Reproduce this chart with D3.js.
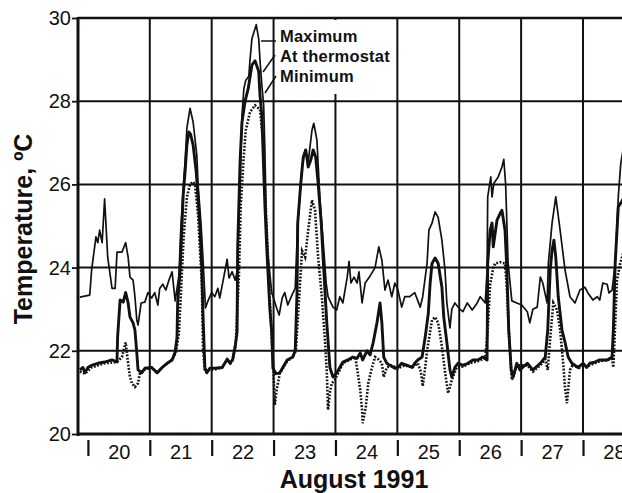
<!DOCTYPE html>
<html>
<head>
<meta charset="utf-8">
<script src="https://cdn.jsdelivr.net/npm/d3@7"></script>
<style>
  html, body { margin: 0; padding: 0; background: #fff; }
  svg { display: block; }
  text { font-family: "Liberation Sans", Arial, Helvetica, sans-serif; fill: #111; }
</style>
</head>
<body>
<svg id="chart" width="622" height="493"></svg>
<script>
// Room temperatures, August 1991. Time is given in decimal days of the month.
const maximumSeries = [
  [19.87,23.29],[20.03,23.34],[20.06,23.94],[20.13,24.74],[20.16,24.6],[20.19,24.9],[20.23,24.6],
  [20.27,25.65],[20.32,24.25],[20.39,23.5],[20.44,23.5],[20.47,24.37],[20.55,24.37],[20.61,24.6],
  [20.65,24.25],[20.68,23.77],[20.73,23.7],[20.76,23.3],[20.79,22.74],[20.81,22.62],[20.86,23.15],
  [20.92,23.17],[20.97,23.4],[21.03,23.27],[21.08,23.4],[21.13,23.1],[21.16,23.5],[21.21,23.6],
  [21.26,23.46],[21.31,23.7],[21.36,23.9],[21.41,23.2],[21.47,23.8],[21.50,24.9],[21.54,25.9],
  [21.57,26.54],[21.60,27.36],[21.65,27.83],[21.70,27.5],[21.76,26.7],[21.78,26.0],[21.83,25.0],
  [21.86,24.2],[21.90,23.03],[21.94,23.2],[22.00,23.4],[22.05,23.3],[22.10,23.5],[22.13,23.27],
  [22.18,23.65],[22.25,24.2],[22.28,23.75],[22.33,23.9],[22.38,23.7],[22.41,23.9],[22.46,26.06],
  [22.49,27.67],[22.52,28.3],[22.55,28.5],[22.60,28.6],[22.62,29.0],[22.65,29.5],[22.72,29.84],
  [22.76,29.5],[22.78,29.0],[22.81,28.4],[22.84,27.9],[22.86,26.8],[22.88,25.3],[22.91,24.3],
  [22.97,23.4],[23.05,23.03],[23.09,22.86],[23.14,23.27],[23.18,23.4],[23.23,23.1],[23.30,23.35],
  [23.35,23.5],[23.39,25.07],[23.46,26.42],[23.51,26.83],[23.56,26.54],[23.62,27.3],[23.65,27.47],
  [23.70,27.07],[23.75,25.62],[23.80,24.66],[23.85,23.63],[23.88,23.3],[23.96,23.05],[24.02,22.98],
  [24.07,23.3],[24.12,23.15],[24.19,23.77],[24.22,24.15],[24.25,23.63],[24.30,23.77],[24.35,23.63],
  [24.38,23.9],[24.43,23.15],[24.48,23.63],[24.56,23.8],[24.64,24.0],[24.70,24.5],[24.75,24.18],
  [24.80,23.46],[24.85,23.7],[24.91,23.3],[24.96,23.63],[25.01,23.46],[25.07,23.05],[25.12,23.3],
  [25.20,23.3],[25.28,23.4],[25.37,23.05],[25.41,23.3],[25.48,24.1],[25.51,24.9],[25.56,25.07],
  [25.61,25.34],[25.66,25.2],[25.72,24.66],[25.77,23.94],[25.80,23.15],[25.85,22.55],[25.88,23.0],
  [25.93,23.15],[26.01,23.0],[26.06,22.94],[26.13,23.15],[26.21,22.98],[26.29,23.15],[26.34,23.3],
  [26.42,23.15],[26.45,23.94],[26.46,25.7],[26.51,26.18],[26.53,25.7],[26.56,26.03],[26.63,26.18],
  [26.69,26.42],[26.72,26.6],[26.75,26.0],[26.79,24.1],[26.85,23.2],[26.93,23.15],[27.01,23.1],
  [27.10,22.94],[27.14,22.67],[27.19,23.0],[27.26,23.05],[27.31,23.77],[27.35,23.63],[27.42,23.15],
  [27.44,24.1],[27.50,25.07],[27.56,25.7],[27.63,24.9],[27.71,23.94],[27.79,23.3],[27.87,23.15],
  [27.95,23.46],[28.03,23.53],[28.08,23.39],[28.16,23.22],[28.23,23.3],[28.27,23.22],[28.32,23.63],
  [28.39,23.6],[28.42,23.39],[28.47,23.46],[28.52,24.1],[28.57,25.7],[28.61,26.5],[28.70,27.3]
];

const thermostatSeries = [
  [19.87,21.54],[19.92,21.6],[19.95,21.47],[20.00,21.6],[20.06,21.65],[20.16,21.7],[20.27,21.73],
  [20.39,21.78],[20.47,21.73],[20.48,22.33],[20.52,23.22],[20.57,23.17],[20.61,23.4],[20.65,23.15],
  [20.68,22.81],[20.73,22.67],[20.76,22.5],[20.79,21.95],[20.81,21.54],[20.87,21.47],[20.92,21.58],
  [21.03,21.6],[21.12,21.47],[21.20,21.6],[21.28,21.7],[21.36,21.78],[21.41,21.97],[21.44,22.33],
  [21.45,23.15],[21.49,23.94],[21.54,25.75],[21.57,26.3],[21.60,26.95],[21.63,27.26],[21.66,27.2],
  [21.70,26.95],[21.75,26.3],[21.78,25.67],[21.81,25.0],[21.84,24.0],[21.86,22.86],[21.89,21.6],
  [21.92,21.47],[21.97,21.58],[22.05,21.58],[22.17,21.6],[22.25,21.8],[22.30,21.7],[22.34,21.8],
  [22.38,22.1],[22.41,22.45],[22.42,24.47],[22.46,26.6],[22.49,27.5],[22.54,28.0],[22.59,28.3],
  [22.65,28.87],[22.70,28.97],[22.76,28.72],[22.78,28.15],[22.81,27.67],[22.86,25.5],[22.89,24.47],
  [22.94,23.0],[22.97,22.45],[22.99,21.58],[23.04,21.45],[23.10,21.47],[23.22,21.78],[23.31,21.85],
  [23.35,22.0],[23.38,23.46],[23.39,25.07],[23.44,26.03],[23.48,26.66],[23.52,26.83],[23.56,26.42],
  [23.60,26.58],[23.64,26.83],[23.68,26.66],[23.72,26.03],[23.77,25.07],[23.80,24.25],[23.86,22.67],
  [23.91,21.6],[23.96,21.37],[24.02,21.47],[24.07,21.6],[24.12,21.73],[24.20,21.78],[24.28,21.85],
  [24.35,21.82],[24.40,21.95],[24.44,21.78],[24.51,22.0],[24.56,21.9],[24.61,22.2],[24.67,22.67],
  [24.72,23.15],[24.75,22.67],[24.78,21.85],[24.83,21.7],[24.88,21.65],[24.96,21.58],[25.01,21.6],
  [25.07,21.7],[25.16,21.65],[25.24,21.6],[25.28,21.7],[25.33,21.78],[25.40,21.85],[25.45,22.33],
  [25.50,22.9],[25.53,23.63],[25.56,24.1],[25.61,24.23],[25.66,24.1],[25.72,23.53],[25.75,22.81],
  [25.80,22.2],[25.85,21.54],[25.88,21.37],[25.93,21.6],[25.98,21.7],[26.06,21.65],[26.14,21.7],
  [26.22,21.78],[26.30,21.78],[26.38,21.85],[26.45,21.78],[26.46,24.1],[26.50,24.9],[26.53,25.07],
  [26.55,24.5],[26.61,25.14],[26.66,25.3],[26.69,25.38],[26.74,24.9],[26.77,23.94],[26.80,22.5],
  [26.84,21.54],[26.87,21.37],[26.93,21.7],[26.98,21.54],[27.10,21.7],[27.19,21.54],[27.31,21.7],
  [27.39,21.85],[27.43,22.5],[27.47,23.94],[27.50,24.42],[27.53,24.66],[27.56,24.25],[27.60,23.3],
  [27.66,22.5],[27.71,22.2],[27.76,21.85],[27.82,21.7],[27.92,21.6],[28.00,21.7],[28.06,21.6],
  [28.11,21.7],[28.19,21.73],[28.27,21.78],[28.39,21.78],[28.47,21.85],[28.49,22.5],[28.52,24.1],
  [28.57,25.46],[28.63,25.6],[28.70,25.8]
];

const minimumSeries = [
  [19.87,21.5],[19.95,21.45],[20.06,21.6],[20.27,21.7],[20.47,21.73],[20.55,21.85],[20.61,22.2],
  [20.65,21.7],[20.68,21.37],[20.71,21.22],[20.76,21.13],[20.81,21.22],[20.84,21.47],[20.92,21.55],
  [21.03,21.6],[21.12,21.47],[21.20,21.6],[21.28,21.7],[21.36,21.78],[21.42,21.95],[21.47,22.4],
  [21.50,23.3],[21.55,24.8],[21.60,25.7],[21.65,26.0],[21.70,26.06],[21.73,26.0],[21.78,25.26],
  [21.84,23.65],[21.86,22.07],[21.89,21.5],[21.97,21.55],[22.05,21.55],[22.17,21.6],[22.25,21.78],
  [22.30,21.7],[22.34,21.78],[22.39,22.2],[22.44,23.8],[22.47,25.5],[22.51,26.5],[22.55,27.3],
  [22.62,27.74],[22.70,27.9],[22.78,27.8],[22.83,27.07],[22.88,25.26],[22.94,23.22],[22.99,21.8],
  [23.02,20.7],[23.05,21.06],[23.10,21.45],[23.22,21.75],[23.31,21.85],[23.36,22.0],[23.41,23.2],
  [23.46,24.4],[23.51,24.25],[23.56,24.9],[23.62,25.62],[23.67,25.38],[23.72,24.25],[23.78,23.3],
  [23.83,22.26],[23.86,21.5],[23.88,20.58],[23.91,21.0],[23.94,21.22],[23.99,21.3],[24.04,21.45],
  [24.12,21.7],[24.20,21.76],[24.32,21.85],[24.36,21.47],[24.40,21.06],[24.43,20.58],[24.44,20.26],
  [24.49,20.65],[24.53,21.22],[24.59,21.6],[24.64,21.85],[24.69,21.8],[24.75,21.7],[24.78,21.37],
  [24.83,21.6],[24.91,21.65],[25.01,21.58],[25.12,21.65],[25.24,21.6],[25.33,21.7],[25.38,21.5],
  [25.41,21.15],[25.45,21.6],[25.48,22.0],[25.56,22.74],[25.61,22.81],[25.66,22.67],[25.72,22.1],
  [25.77,21.5],[25.82,20.98],[25.88,21.3],[25.96,21.6],[26.06,21.62],[26.17,21.7],[26.30,21.75],
  [26.42,21.82],[26.46,22.5],[26.50,23.6],[26.55,24.0],[26.58,24.1],[26.66,24.13],[26.74,24.1],
  [26.77,23.5],[26.80,22.5],[26.84,21.5],[26.85,21.3],[26.89,21.45],[26.93,21.65],[27.10,21.65],
  [27.19,21.5],[27.31,21.65],[27.39,21.8],[27.43,21.54],[27.47,22.3],[27.52,23.15],[27.58,22.98],
  [27.63,22.5],[27.68,21.7],[27.71,21.1],[27.74,20.74],[27.79,21.54],[27.84,21.68],[27.92,21.58],
  [28.11,21.65],[28.27,21.75],[28.47,21.8],[28.49,21.6],[28.55,23.7],[28.60,24.1],[28.70,24.6]
];

const dayBoundaries = [20, 21, 22, 23, 24, 25, 26, 27, 28];
const dayLabels = ["20", "21", "22", "23", "24", "25", "26", "27", "28"];
const tempTicks = [20, 22, 24, 26, 28, 30];
const legendLabels = ["Maximum", "At thermostat", "Minimum"];
const xTitle = "August 1991";
const yTitle = "Temperature, \u00BAC";

const W = 622, H = 493;
const plot = { left: 78, right: 622, top: 18, bottom: 434 };

const svg = d3.select("#chart");
svg.append("rect").attr("width", W).attr("height", H).attr("fill", "#fff");

const x = d3.scaleLinear().domain([19.84, 28.63]).range([plot.left, plot.right]);
const y = d3.scaleLinear().domain([20, 30]).range([plot.bottom, plot.top]);

svg.append("defs").append("clipPath").attr("id", "plotClip")
  .append("rect")
  .attr("x", plot.left).attr("y", plot.top)
  .attr("width", plot.right - plot.left).attr("height", plot.bottom - plot.top);

// Grid
const grid = svg.append("g").attr("stroke", "#111").attr("fill", "none");
grid.selectAll("line.h").data(tempTicks.filter(t => t > 20 && t < 30)).join("line")
  .attr("class", "h")
  .attr("x1", plot.left).attr("x2", plot.right)
  .attr("y1", d => y(d)).attr("y2", d => y(d))
  .attr("stroke-width", 2);
grid.selectAll("line.v").data(dayBoundaries.filter(d => d > 20)).join("line")
  .attr("class", "v")
  .attr("x1", d => x(d)).attr("x2", d => x(d))
  .attr("y1", plot.top).attr("y2", plot.bottom)
  .attr("stroke-width", 2);
// top frame line
grid.append("line")
  .attr("x1", plot.left).attr("x2", plot.right)
  .attr("y1", y(30)).attr("y2", y(30))
  .attr("stroke-width", 2.4);

// Legend backdrop
svg.append("rect")
  .attr("x", 277).attr("y", 20).attr("width", 118).attr("height", 74)
  .attr("fill", "#fff");

// Series
const line = d3.line().x(d => x(d[0])).y(d => y(d[1]));
const series = svg.append("g").attr("clip-path", "url(#plotClip)").attr("fill", "none");

series.append("path").datum(minimumSeries)
  .attr("d", line).attr("stroke", "#111")
  .attr("stroke-width", 2.6).attr("stroke-dasharray", "1.8,1.6");
series.append("path").datum(maximumSeries)
  .attr("d", line).attr("stroke", "#111")
  .attr("stroke-width", 1.7).attr("stroke-linejoin", "round");
series.append("path").datum(thermostatSeries)
  .attr("d", line).attr("stroke", "#111")
  .attr("stroke-width", 2.9).attr("stroke-linejoin", "round");

// Legend labels and leader lines
const legend = svg.append("g");
legend.selectAll("text").data(legendLabels).join("text")
  .attr("x", 280)
  .attr("y", (d, i) => 42 + i * 20)
  .attr("font-size", 16.5).attr("font-weight", "bold")
  .attr("letter-spacing", 0.2)
  .text(d => d);
const leaders = [
  [[261, 41], [276, 41]],
  [[263, 72], [275, 55]],
  [[265, 93], [276, 76]]
];
legend.selectAll("path").data(leaders).join("path")
  .attr("d", d => d3.line()(d))
  .attr("stroke", "#111").attr("stroke-width", 1.5).attr("fill", "none");

// Y axis
const yAxis = d3.axisLeft(y).tickValues(tempTicks).tickSize(6).tickPadding(1)
  .tickFormat(d3.format("d"));
const gy = svg.append("g").attr("transform", `translate(${plot.left},0)`).call(yAxis);
gy.select(".domain").remove();
gy.selectAll(".tick line").attr("stroke", "#111").attr("stroke-width", 1.8);
gy.selectAll(".tick text").attr("font-size", 20).attr("fill", "#111")
  .attr("font-family", "'Liberation Sans', Arial, sans-serif");

// X axis: boundary ticks below the baseline, day labels centred in each day
const xTicks = d3.axisBottom(x).tickValues(dayBoundaries).tickSize(16).tickFormat("");
const gxt = svg.append("g").attr("transform", `translate(0,${plot.bottom + 6})`).call(xTicks);
gxt.select(".domain").remove();
gxt.selectAll(".tick line").attr("stroke", "#111").attr("stroke-width", 2.2);

const xLabels = d3.axisBottom(x).tickValues(dayBoundaries.map(d => d + 0.5)).tickSize(0)
  .tickFormat((d, i) => dayLabels[i]);
const gxl = svg.append("g").attr("transform", `translate(0,${plot.bottom + 8})`).call(xLabels);
gxl.select(".domain").remove();
gxl.selectAll(".tick text").attr("font-size", 20).attr("fill", "#111")
  .attr("font-family", "'Liberation Sans', Arial, sans-serif");

// Axis lines
svg.append("line")
  .attr("x1", plot.left).attr("x2", plot.left)
  .attr("y1", plot.top - 1).attr("y2", plot.bottom + 2)
  .attr("stroke", "#111").attr("stroke-width", 3);
svg.append("line")
  .attr("x1", plot.left - 1).attr("x2", plot.right)
  .attr("y1", plot.bottom).attr("y2", plot.bottom)
  .attr("stroke", "#111").attr("stroke-width", 3);

// Titles
svg.append("text")
  .attr("x", 354).attr("y", 488)
  .attr("text-anchor", "middle")
  .attr("font-size", 25).attr("font-weight", "bold")
  .text(xTitle);
svg.append("text")
  .attr("transform", "translate(32,229) rotate(-90)")
  .attr("text-anchor", "middle")
  .attr("font-size", 25).attr("font-weight", "bold")
  .text(yTitle);
</script>
</body>
</html>
